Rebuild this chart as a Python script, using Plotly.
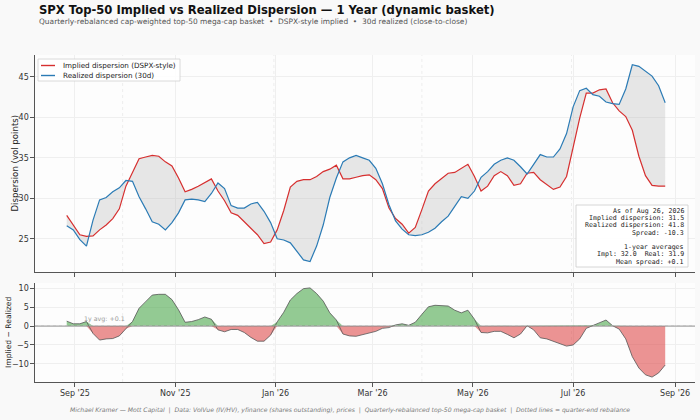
import numpy as np
import pandas as pd
import plotly.graph_objects as go

# ---------------- data ----------------
dates = pd.date_range("2025-08-27", periods=92, freq="4D")

implied = [27.9, 26.7, 25.5, 25.3, 25.35, 26.1, 26.7, 27.5, 28.7, 31.5,
           33.3, 34.9, 35.1, 35.3, 35.2, 34.5, 34.0, 32.5, 30.8, 31.1,
           31.5, 32.0, 32.4, 30.9, 29.7, 28.2, 27.9, 27.1, 26.3, 25.5,
           24.4, 24.6, 26.1, 28.5, 31.4, 32.1, 32.3, 32.3, 32.7, 33.3,
           33.6, 34.1, 32.4, 32.4, 32.6, 32.8, 32.9, 32.3, 31.2, 28.8,
           27.5, 26.8, 25.7, 26.4, 28.6, 30.9, 31.8, 32.4, 33.1, 33.2,
           33.7, 34.2, 32.7, 30.9, 31.5, 32.8, 33.3, 32.8, 31.6, 31.8,
           33.1, 33.2, 32.3, 31.7, 31.1, 31.4, 32.7, 36.3, 39.9, 43.0,
           43.0, 43.4, 43.5, 41.8, 40.8, 40.1, 38.4, 35.2, 32.8, 31.6,
           31.5, 31.5]

realized = [26.6, 26.1, 24.9, 24.1, 27.3, 29.8, 30.1, 30.8, 31.3, 32.2,
            32.1, 30.2, 28.7, 27.1, 26.8, 26.1, 27.0, 28.2, 29.8, 29.9,
            29.8, 29.6, 30.6, 31.9, 31.2, 29.1, 28.8, 28.8, 29.3, 29.5,
            28.4, 27.0, 25.0, 24.85, 24.5, 23.5, 22.4, 22.2, 24.1, 26.7,
            30.1, 32.5, 34.5, 35.0, 35.3, 35.0, 34.7, 33.7, 31.8, 29.2,
            27.2, 26.2, 25.5, 25.4, 25.5, 25.8, 26.3, 27.1, 27.8, 29.0,
            30.2, 30.0, 30.9, 32.6, 33.3, 34.2, 34.7, 35.0, 34.7, 33.9,
            33.0, 34.2, 35.4, 35.1, 35.1, 36.1, 38.0, 41.3, 43.3, 43.6,
            42.8, 42.6, 41.9, 41.7, 41.6, 43.5, 46.5, 46.3, 45.7, 45.1,
            43.9, 41.8]

tick_dates = ["2025-09-01", "2025-11-01", "2026-01-01", "2026-03-01",
              "2026-05-01", "2026-07-01", "2026-09-01"]
tick_labels = ["Sep '25", "Nov '25", "Jan '26", "Mar '26", "May '26", "Jul '26", "Sep '26"]
rebalance_dates = ["2025-09-30", "2025-12-31", "2026-03-31", "2026-06-30"]
mean_spread = 0.1

stats_lines = ["As of Aug 26, 2026", "Implied dispersion: 31.5",
               "Realized dispersion: 41.8", "Spread: -10.3", "",
               "1-year averages", "Impl: 32.0  Real: 31.9", "Mean spread: +0.1"]

# ---------------- derived ----------------
imp = np.array(implied)
rea = np.array(realized)
spread = imp - rea
pos = np.maximum(spread, 0)
neg = np.minimum(spread, 0)

RED = "#d62f2f"
BLUE = "#2b7bb5"
FONT = "DejaVu Sans"

# pixel helpers (plot area: x 35..695, y 55..382 in a 700x420 page)
def px(x):
    return (x - 35) / 660


def py(y):
    return (382 - y) / 327


fig = go.Figure()

# gray fill between the two series
fig.add_trace(go.Scatter(x=dates, y=rea, mode="lines", line=dict(width=0),
                         showlegend=False, hoverinfo="skip", xaxis="x", yaxis="y"))
fig.add_trace(go.Scatter(x=dates, y=imp, mode="lines", line=dict(width=0),
                         fill="tonexty", fillcolor="rgba(160,160,160,0.24)",
                         showlegend=False, hoverinfo="skip", xaxis="x", yaxis="y"))
fig.add_trace(go.Scatter(x=dates, y=imp, mode="lines", line=dict(color=RED, width=1.2),
                         name="Implied dispersion (DSPX-style)", showlegend=False,
                         xaxis="x", yaxis="y"))
fig.add_trace(go.Scatter(x=dates, y=rea, mode="lines", line=dict(color=BLUE, width=1.2),
                         name="Realized dispersion (30d)", showlegend=False,
                         xaxis="x", yaxis="y"))

# spread panel
fig.add_trace(go.Scatter(x=dates, y=pos, mode="lines", line=dict(width=0),
                         fill="tozeroy", fillcolor="rgba(60,160,60,0.55)",
                         showlegend=False, hoverinfo="skip", xaxis="x2", yaxis="y2"))
fig.add_trace(go.Scatter(x=dates, y=neg, mode="lines", line=dict(width=0),
                         fill="tozeroy", fillcolor="rgba(220,60,60,0.55)",
                         showlegend=False, hoverinfo="skip", xaxis="x2", yaxis="y2"))
fig.add_trace(go.Scatter(x=dates, y=spread, mode="lines", line=dict(color="#555555", width=0.8),
                         showlegend=False, xaxis="x2", yaxis="y2"))

xrange = ["2025-08-07 17:00", "2026-09-13 03:00"]
axis_common = dict(showline=True, linecolor="#555555", linewidth=1.2, ticks="outside",
                   ticklen=3.5, tickcolor="#555555", tickwidth=1, automargin=False,
                   showgrid=True, gridcolor="#efefef", gridwidth=0.6, zeroline=False,
                   tickfont=dict(family=FONT, size=8, color="#333333"))

fig.update_layout(
    template="none",
    width=700, height=420,
    margin=dict(l=35, r=5, t=55, b=38, autoexpand=False),
    paper_bgcolor="#f9f9f9", plot_bgcolor="#fdfdfd",
    xaxis=dict(domain=[0, 1], range=xrange, type="date", anchor="y",
               tickvals=tick_dates, ticktext=tick_labels, showticklabels=False, **axis_common),
    yaxis=dict(domain=[0.3364, 1], range=[20.9, 47.7], tickvals=[25, 30, 35, 40, 45],
               anchor="x", **axis_common),
    xaxis2=dict(domain=[0, 1], range=xrange, type="date", anchor="y2", matches="x",
                tickvals=tick_dates, ticktext=tick_labels, **axis_common),
    yaxis2=dict(domain=[0, 0.3028], range=[-14.8, 11.4], tickvals=[-10, -5, 0, 5, 10],
                anchor="x2", **axis_common),
    showlegend=False,
)

shapes = []
for d in rebalance_dates:
    for xr, yr in (("x", "y domain"), ("x2", "y2 domain")):
        shapes.append(dict(type="line", xref=xr, yref=yr, x0=d, x1=d, y0=0, y1=1,
                           line=dict(color="#e6e6e6", width=0.7, dash="dot"), layer="below"))
# zero line and mean line in spread panel
shapes.append(dict(type="line", xref="x2 domain", yref="y2", x0=0, x1=1, y0=0, y1=0,
                   line=dict(color="#888888", width=0.9)))
shapes.append(dict(type="line", xref="x2 domain", yref="y2", x0=0, x1=1,
                   y0=mean_spread, y1=mean_spread,
                   line=dict(color="#bbbbbb", width=0.6, dash="dot")))

# manual legend
shapes.append(dict(type="rect", xref="paper", yref="paper", x0=px(38), x1=px(180),
                   y0=py(81), y1=py(59),
                   fillcolor="rgba(255,255,255,0.85)", line=dict(color="#d0d0d0", width=0.8)))
for ypx, col in ((65.5, RED), (75.5, BLUE)):
    shapes.append(dict(type="line", xref="paper", yref="paper",
                       x0=px(41), x1=px(55), y0=py(ypx), y1=py(ypx),
                       line=dict(color=col, width=1.4)))
# stats box
shapes.append(dict(type="rect", xref="paper", yref="paper", x0=px(576), x1=px(688),
                   y0=py(267), y1=py(205),
                   fillcolor="rgba(255,255,255,0.9)", line=dict(color="#cccccc", width=0.8)))
fig.update_layout(shapes=shapes)

ann = []
for ypx, txt in ((65.5, "Implied dispersion (DSPX-style)"), (75.5, "Realized dispersion (30d)")):
    ann.append(dict(xref="paper", yref="paper", x=px(61), y=py(ypx),
                    text=txt, showarrow=False, xanchor="left", yanchor="middle",
                    font=dict(family=FONT, size=7.2, color="#222222")))

for i, line in enumerate(stats_lines):
    if not line:
        continue
    ann.append(dict(xref="paper", yref="paper", x=px(685.5), y=py(211 + 7.24 * i),
                    text=line, showarrow=False, xanchor="right", yanchor="middle",
                    font=dict(family="DejaVu Sans Mono", size=6.6, color="#222222")))

ann.append(dict(xref="paper", yref="paper", x=px(37), y=py(10.5),
                text="<b>SPX Top-50 Implied vs Realized Dispersion — 1 Year (dynamic basket)</b>",
                showarrow=False, xanchor="left", yanchor="middle",
                font=dict(family=FONT, size=11.6, color="#111111")))
ann.append(dict(xref="paper", yref="paper", x=px(37), y=py(21),
                text="Quarterly-rebalanced cap-weighted top-50 mega-cap basket  •  DSPX-style implied  •  30d realized (close-to-close)",
                showarrow=False, xanchor="left", yanchor="middle",
                font=dict(family=FONT, size=7.45, color="#555555")))
ann.append(dict(xref="paper", yref="paper", x=px(349.5), y=py(410),
                text="<i>Michael Kramer — Mott Capital  |  Data: VolVue (IV/HV), yfinance (shares outstanding), prices  |  Quarterly-rebalanced top-50 mega-cap basket  |  Dotted lines = quarter-end rebalance</i>",
                showarrow=False, xanchor="center", yanchor="middle",
                font=dict(family=FONT, size=6.1, color="#777777")))
ann.append(dict(xref="paper", yref="paper", x=px(14), y=py(163.5),
                text="Dispersion (vol points)", textangle=-90, showarrow=False,
                xanchor="center", yanchor="middle",
                font=dict(family=FONT, size=8.6, color="#222222")))
ann.append(dict(xref="paper", yref="paper", x=px(8), y=py(333),
                text="Implied − Realized", textangle=-90, showarrow=False,
                xanchor="center", yanchor="middle",
                font=dict(family=FONT, size=7.6, color="#222222")))
ann.append(dict(xref="x2", yref="y2", x="2025-09-05", y=mean_spread + 0.3,
                text=f"1y avg: {mean_spread:+.1f}", showarrow=False,
                xanchor="left", yanchor="bottom",
                font=dict(family=FONT, size=6.3, color="#999999")))
fig.update_layout(annotations=ann)

fig.write_html("out.html", config={"displayModeBar": False},
               post_script="document.body.style.margin='0';document.body.style.overflow='hidden';")
